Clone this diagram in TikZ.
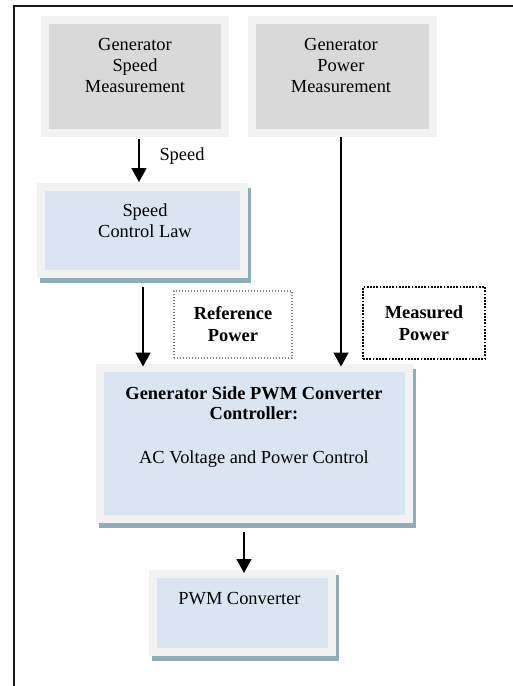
\documentclass[tikz,border=0pt]{standalone}
\usepackage{fontspec}
\setmainfont{Liberation Serif}
\usetikzlibrary{arrows.meta,shadows}
\definecolor{boxouter}{HTML}{F2F2F2}
\definecolor{grayin}{HTML}{D9D9D9}
\definecolor{bluein}{HTML}{DBE5F1}
\definecolor{shadowc}{HTML}{8FADB6}
\definecolor{dotgray}{HTML}{808080}
\tikzset{
  outerbox/.style={fill=boxouter, draw=none, inner sep=0pt, outer sep=0pt},
  shadowbox/.style={outerbox, general shadow={fill=shadowc, shadow xshift=3pt, shadow yshift=-4.5pt}},
  txt/.style={font=\fontsize{18.4}{21.2}\selectfont, align=center, inner sep=0pt},
  btxt/.style={font=\fontsize{18.4}{20}\selectfont\bfseries, align=center, inner sep=0pt},
  arr/.style={line width=1.6pt, -{Triangle[length=14pt,width=15pt]}},
  frame/.style={line width=2.2pt, black!90}
}
\begin{document}
\begin{tikzpicture}[x=1pt,y=-1pt]
\useasboundingbox (0,0) rectangle (513,686);
\draw[frame] (14.3,686) -- (14.3,5.6) -- (513,5.6);

% gray measurement boxes
\node[outerbox, minimum width=188pt, minimum height=121pt] (gsm) at (135,76.5) {};
\fill[grayin] ([shift={(8pt,-8pt)}]gsm.north west) rectangle ([shift={(-8pt,8pt)}]gsm.south east);
\node[txt] (gsmt) at (135,65.5) {Generator\\Speed\\Measurement};

\node[outerbox, minimum width=189pt, minimum height=121pt] (gpm) at (342.5,76.5) {};
\fill[grayin] ([shift={(8pt,-8pt)}]gpm.north west) rectangle ([shift={(-8pt,8pt)}]gpm.south east);
\node[txt] (gpmt) at (341,65.5) {Generator\\Power\\Measurement};

% speed control law
\node[shadowbox, minimum width=211pt, minimum height=95pt] (scl) at (142.5,230.5) {};
\fill[bluein] ([shift={(8pt,-8pt)}]scl.north west) rectangle ([shift={(-8pt,8pt)}]scl.south east);
\node[txt] (sclt) at (145,221) {Speed\\Control Law};

% main controller
\node[shadowbox, minimum width=317pt, minimum height=159pt] (big) at (254.5,443.5) {};
\fill[bluein] ([shift={(8pt,-8pt)}]big.north west) rectangle ([shift={(-8pt,8pt)}]big.south east);
\node[btxt] (bigt) at (254,403) {Generator Side PWM Converter\\Controller:};
\node[txt, anchor=base] (acv) at (254,463.3) {AC Voltage and Power Control};

% PWM converter
\node[shadowbox, minimum width=187pt, minimum height=86pt] (pwm) at (242.5,613) {};
\fill[bluein] ([shift={(8pt,-8pt)}]pwm.north west) rectangle ([shift={(-8pt,8pt)}]pwm.south east);
\node[txt, anchor=base] (pwmt) at (239.5,604.5) {PWM Converter};

% dotted label boxes
\node[btxt, font=\fontsize{18.4}{22}\selectfont\bfseries, draw=dotgray, line width=1.2pt, dash pattern=on 1.2pt off 1.8pt,
      minimum width=118pt, minimum height=67pt] (refp) at (233,324.5) {Reference\\Power};
\node[btxt, font=\fontsize{18.4}{22}\selectfont\bfseries, draw=black, line width=1.8pt, dash pattern=on 1.8pt off 1.4pt,
      minimum width=122pt, minimum height=72pt] (mesp) at (424,323) {Measured\\Power};

% speed label
\node[txt, anchor=base] (spd) at (182,160) {Speed};

% arrows
\draw[arr] ([xshift=4pt,yshift=-2pt]gsm.south) -- ([xshift=-3.5pt,yshift=1pt]scl.north);
\draw[arr] ([xshift=0.5pt,yshift=-9pt]scl.south) -- ([xshift=-111.5pt,yshift=-2.5pt]big.north);
\draw[arr] ([xshift=-1.5pt]gpm.south) -- ([xshift=86.5pt,yshift=-2.5pt]big.north);
\draw[arr] ([xshift=-10.5pt,yshift=-9pt]big.south) -- ([xshift=1.5pt,yshift=-3pt]pwm.north);
\end{tikzpicture}
\end{document}
